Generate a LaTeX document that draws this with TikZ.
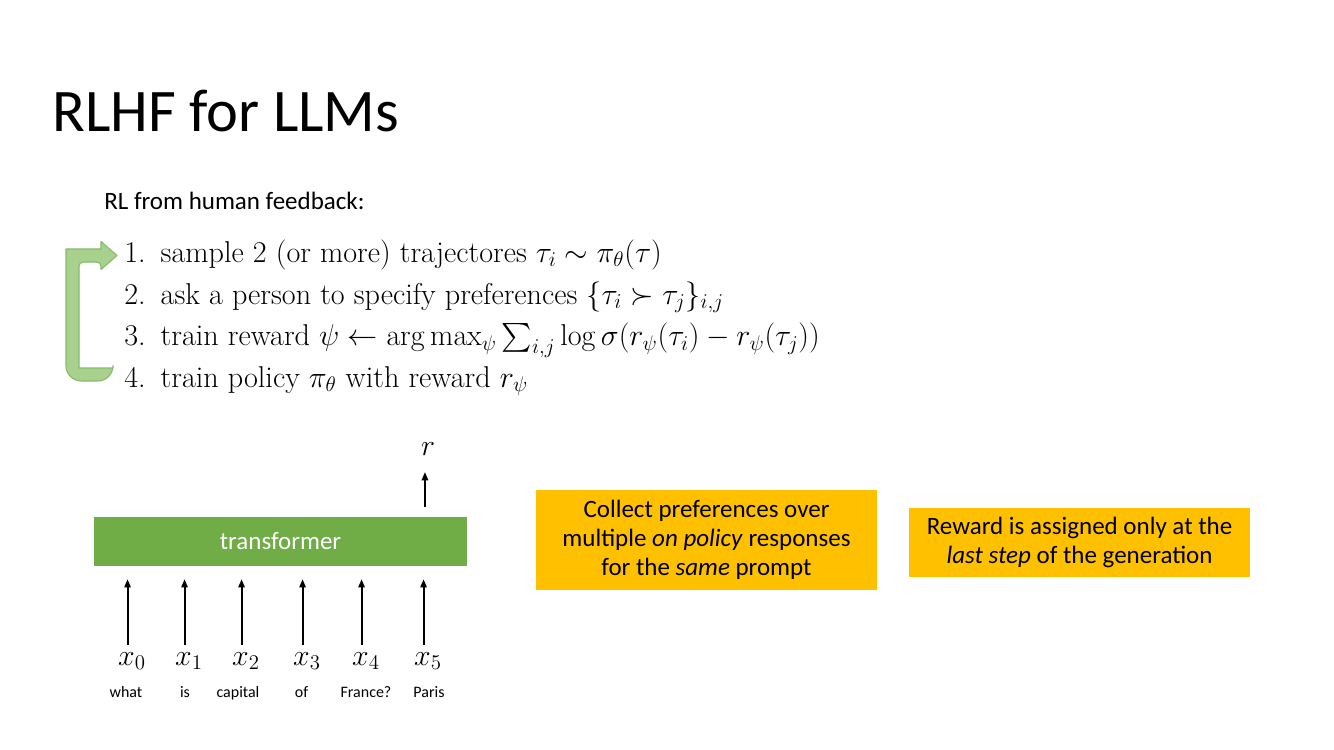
\RequirePackage{fix-cm}
\documentclass[tikz,border=0pt]{standalone}
\usepackage{exscale}
\usepackage[no-math]{fontspec}
\setmainfont{Carlito}
\newfontfamily\cmfont{Latin Modern Roman}
\usetikzlibrary{arrows.meta,calc}
\definecolor{trfgreen}{RGB}{112,173,71}
\definecolor{notegold}{RGB}{255,192,0}
\definecolor{loopfill}{RGB}{169,209,142}
\definecolor{loopedge}{RGB}{135,186,104}
\begin{document}
\begin{tikzpicture}[x=0.72pt,y=-0.72pt,>={Triangle[width=4.5pt,length=6pt]}, line join=round,
    listline/.style={anchor=base west,inner sep=0pt,font=\cmfont\fontsize{21.7}{26}\selectfont},
    tokmath/.style={anchor=base,inner sep=0pt,font=\fontsize{21.5}{26}\selectfont},
    tokword/.style={anchor=base,inner sep=0pt,font=\fontsize{11.5}{14}\selectfont},
    tokarrow/.style={->,line width=1.45pt,shorten <=5pt,shorten >=9.4pt},
    note/.style={fill=notegold,align=center,inner sep=0pt,font=\fontsize{18}{21}\selectfont}]
    \useasboundingbox (0,0) rectangle (1334,750);
    \node[anchor=base west,inner sep=0pt,font=\fontsize{43.5}{52}\selectfont] (title) at (52,132) {RLHF for LLMs};
    \node[anchor=base west,inner sep=0pt,font=\fontsize{18}{21.6}\selectfont] (intro) at (104,210) {RL from human feedback:};
    % the four steps
    \node[listline] (item1) at (124,262) {1.\hspace{0.5em}sample 2 (or more) trajectores $\tau_i \sim \pi_\theta(\tau)$};
    \node[listline] (item2) at (124,304) {2.\hspace{0.5em}ask a person to specify preferences $\{\tau_i \succ \tau_j\}_{i,j}$};
    \node[listline] (item3) at (124,345.5) {3.\hspace{0.5em}train reward $\psi \leftarrow \arg\max_\psi \sum_{i,j} \log\sigma(r_\psi(\tau_i) - r_\psi(\tau_j))$};
    \node[listline] (item4) at (124,387) {4.\hspace{0.5em}train policy $\pi_\theta$ with reward $r_\psi$};
    \coordinate (looptip) at ([shift={(-7,-6.5)}]item1.base west);
    \coordinate (loopend) at ([shift={(-11,-12.5)}]item4.base west);
    \filldraw[fill=loopfill,draw=loopedge,line width=0.8pt] (looptip) -- ++(-16,-14) -- ++(0,7.5) -- ++(-35,0)
        [rounded corners=11pt] |- ([shift={(0,6.5)}]loopend) [sharp corners] -- ++(0,-13) -- ++(-34,0)
        [rounded corners=3pt] |- ([shift={(-16,6.5)}]looptip) [sharp corners] -- ++(0,7.5) -- cycle;
    % transformer with its tokens
    \node[fill=trfgreen,text=white,minimum width=268pt,minimum height=35pt,inner sep=0pt,
        font=\fontsize{18}{21.6}\selectfont] (trf) at (280.5,541.5) {transformer};
    \foreach \i/\xx/\wx/\w in {0/132/126/what,1/189/185/is,2/246/238/capital,3/307/301.5/of,4/366/366/France?,5/428/429/Paris}{
        \node[tokmath] (tok\i) at (\xx,665) {$x_{\i}$};
        \node[tokword] (word\i) at (\wx,697) {\w};
        \draw[tokarrow] ([xshift=-3.2pt]tok\i.north) -- ([xshift=-3.2pt]tok\i.north |- trf.south);
    }
    \node[tokmath] (rlabel) at (428,455) {$r$};
    \draw[tokarrow,shorten <=7pt,shorten >=12pt] ([xshift=-2.2pt]rlabel.south |- trf.north) -- ([xshift=-2.2pt]rlabel.south);
    % notes
    \node[note,minimum width=245.5pt,minimum height=72pt] (pref) at (706.5,540)
        {Collect preferences over\\multiple \emph{on policy} responses\\for the \emph{same} prompt};
    \node[note,minimum width=245.5pt,minimum height=49.7pt] (last) at (1079.5,542.5)
        {Reward is assigned only at the\\\emph{last step} of the generation};
\end{tikzpicture}
\end{document}
